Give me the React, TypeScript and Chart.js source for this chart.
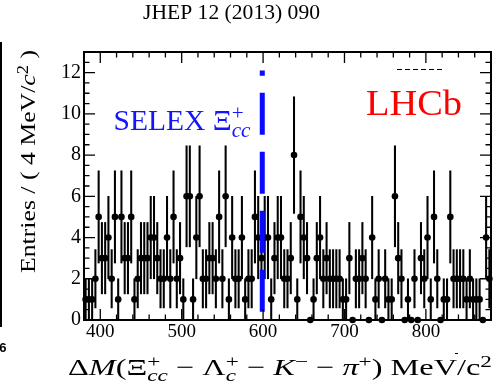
import { useEffect, useRef } from 'react';
import { Chart, registerables } from 'chart.js';

Chart.register(...registerables);

// ---- data ----
const binLow = 380;
const binHigh = 880;
const binWidth = 4;
const counts = [
  1, 1, 1, 2, 5, 3, 3, 4, 2, 5,
  1, 5, 3, 3, 5, 1, 2, 3, 3, 3,
  4, 4, 3, 2, 2, 4, 2, 5, 2, 3,
  1, 6, 6, 1, 4, 6, 2, 2, 3, 3,
  2, 5, 2, 6, 1, 4, 2, 2, 4, 1,
  2, 2, 5, 4, 3, 4, 4, 1, 3, 4,
  4, 2, 2, 3, 8, 1, 5, 4, 3, 0,
  1, 3, 4, 2, 3, 2, 2, 2, 2, 1,
  1, 3, 0, 2, 2, 3, 2, 0, 4, 1,
  2, 0, 2, 1, 1, 6, 3, 2, 0, 1,
  0, 2, 0, 3, 2, 4, 1, 5, 2, 0,
  1, 1, 5, 2, 2, 2, 2, 1, 2, 1,
  1, 1, 0, 4, 2,
];
const binCenters = counts.map((_, i) => binLow + binWidth * (i + 0.5));
const xTickValues = [400, 500, 600, 700, 800];
const yTickValues = [0, 2, 4, 6, 8, 10, 12];
const yMax = 13;
const selexMass = 599;
const selexLineRange = [0.4, 12.1];

const titleText = 'JHEP 12 (2013) 090';
const SERIF = '"Liberation Serif", "Times New Roman", serif';

type Seg = { t: string; it?: boolean; p?: 'sub' | 'sup'; stack?: boolean };

function layoutRich(ctx: CanvasRenderingContext2D, segs: Seg[], size: number, draw: boolean) {
  let x = 0;
  let pending = 0;
  for (const s of segs) {
    const fs = s.p ? size * 0.72 : size;
    ctx.font = `${s.it ? 'italic ' : ''}${fs}px ${SERIF}`;
    const w = ctx.measureText(s.t).width;
    const dy = s.p === 'sub' ? size * 0.25 : s.p === 'sup' ? -size * 0.34 : 0;
    if (draw) ctx.fillText(s.t, x, dy);
    if (s.stack) {
      pending = w;
      continue;
    }
    x += Math.max(w, pending);
    pending = 0;
  }
  return x;
}

function drawRich(
  ctx: CanvasRenderingContext2D,
  segs: Seg[],
  size: number,
  x: number,
  y: number,
  targetW: number,
  color: string,
  rotate = false
) {
  ctx.save();
  ctx.fillStyle = color;
  ctx.textAlign = 'left';
  ctx.textBaseline = 'alphabetic';
  const w = layoutRich(ctx, segs, size, false);
  ctx.translate(x, y);
  if (rotate) ctx.rotate(-Math.PI / 2);
  ctx.scale(targetW / w, 1);
  layoutRich(ctx, segs, size, true);
  ctx.restore();
}

const xTitle: Seg[] = [
  { t: 'Δ' }, { t: 'M', it: true }, { t: '(' }, { t: 'Ξ' },
  { t: 'cc', it: true, p: 'sub', stack: true }, { t: '+', p: 'sup' },
  { t: ' − ' }, { t: 'Λ' }, { t: 'c', it: true, p: 'sub', stack: true }, { t: '+', p: 'sup' },
  { t: ' − ' }, { t: 'K', it: true }, { t: '−', p: 'sup' },
  { t: ' − ' }, { t: 'π', it: true }, { t: '+', p: 'sup' }, { t: ')' },
  { t: ' MeV/c' }, { t: '2', p: 'sup' },
];
const yTitle: Seg[] = [
  { t: 'Entries / ( 4 MeV/' }, { t: 'c', it: true }, { t: '2', p: 'sup' }, { t: ' )' },
];
const selexLabel: Seg[] = [
  { t: 'SELEX ' }, { t: 'Ξ' }, { t: 'cc', it: true, p: 'sub', stack: true }, { t: '+', p: 'sup' },
];

const decorPlugin = {
  id: 'decor',
  afterDraw(chart: any) {
    const { ctx, chartArea } = chart;
    const { left, right, top, bottom } = chartArea;
    const xs = chart.scales.x;
    const ys = chart.scales.y;
    ctx.save();
    ctx.strokeStyle = '#000';
    ctx.lineWidth = 1.3;
    ctx.beginPath();
    for (let v = binLow; v <= binHigh; v += 20) {
      const px = xs.getPixelForValue(v);
      const L = v % 100 === 0 ? 11 : 5.5;
      ctx.moveTo(px, bottom);
      ctx.lineTo(px, bottom - L);
      ctx.moveTo(px, top);
      ctx.lineTo(px, top + L);
    }
    for (let v = 0; v <= yMax; v += 0.5) {
      const py = ys.getPixelForValue(v);
      const L = v % 2 === 0 ? 11 : 5.5;
      ctx.moveTo(left, py);
      ctx.lineTo(left + L, py);
      ctx.moveTo(right, py);
      ctx.lineTo(right - L, py);
    }
    ctx.stroke();
    ctx.lineWidth = 2;
    ctx.strokeRect(left, top, right - left, bottom - top);

    // small leftover legend dashes (top right)
    ctx.lineWidth = 1;
    ctx.setLineDash([5, 3]);
    ctx.beginPath();
    ctx.moveTo(397, 69.5);
    ctx.lineTo(444, 69.5);
    ctx.stroke();
    ctx.setLineDash([]);
    // neighbouring panel edge at far left
    ctx.lineWidth = 2;
    ctx.beginPath();
    ctx.moveTo(1, 42);
    ctx.lineTo(1, 327);
    ctx.stroke();
    ctx.lineWidth = 1;
    ctx.beginPath();
    ctx.moveTo(455, 353.5);
    ctx.lineTo(458, 353.5);
    ctx.stroke();
    ctx.fillStyle = '#000';
    ctx.font = 'bold 13px "Liberation Sans", Arial, sans-serif';
    ctx.textAlign = 'right';
    ctx.textBaseline = 'alphabetic';
    ctx.fillText('6', 6.5, 352);
    ctx.restore();

    // texts
    drawRich(ctx, [{ t: titleText }], 21, 143, 18.5, 177, '#000');
    drawRich(ctx, xTitle, 24, 68, 375, 424, '#000');
    drawRich(ctx, yTitle, 22, 35, 273, 223, '#000', true);
    drawRich(ctx, selexLabel, 29, 113.5, 130, 137, 'rgb(20,20,255)');
    drawRich(ctx, [{ t: 'LHCb' }], 36, 366, 115, 96, 'rgb(255,0,0)');
  },
};

export default function App() {
  const ref = useRef<HTMLCanvasElement | null>(null);
  useEffect(() => {
    if (!ref.current) return;
    const errData = counts
      .map((n, i) => ({ n, x: binCenters[i] }))
      .filter((d) => d.n > 0)
      .map((d) => ({ x: d.x, y: [d.n - Math.sqrt(d.n), d.n + Math.sqrt(d.n)] }));
    const ptData = counts.map((n, i) => ({ x: binCenters[i], y: n }));
    const chart = new Chart(ref.current, {
      type: 'scatter',
      data: {
        datasets: [
          {
            type: 'line',
            data: selexLineRange.map((v) => ({ x: selexMass, y: v })),
            borderColor: 'rgb(10,10,255)',
            borderWidth: 5,
            borderDash: [42, 17],
            borderCapStyle: 'butt',
            pointRadius: 0,
            order: 0,
          } as any,
          {
            type: 'scatter',
            data: ptData,
            backgroundColor: '#000',
            borderWidth: 0,
            pointRadius: 3.3,
            clip: false,
            order: 1,
          } as any,
          {
            type: 'bar',
            data: errData,
            backgroundColor: '#000',
            borderWidth: 0,
            barThickness: 1.4,
            grouped: false,
            order: 2,
          } as any,
        ],
      },
      options: {
        responsive: false,
        animation: false,
        devicePixelRatio: 1,
        layout: { padding: { top: 52, right: 2, left: 0, bottom: 0 } },
        plugins: {
          legend: { display: false },
          tooltip: { enabled: false },
          title: { display: false },
        },
        scales: {
          x: {
            type: 'linear',
            min: binLow,
            max: binHigh,
            offset: false,
            grid: { display: false, drawTicks: false, offset: false },
            border: { display: false },
            afterBuildTicks: (s: any) => {
              s.ticks = xTickValues.map((v) => ({ value: v }));
            },
            afterFit: (s: any) => {
              s.height = 70;
            },
            ticks: {
              font: { family: SERIF, size: 19 },
              color: '#000',
              padding: 1,
              maxRotation: 0,
              autoSkip: false,
            },
          },
          y: {
            type: 'linear',
            min: 0,
            max: yMax,
            grid: { display: false, drawTicks: false },
            border: { display: false },
            afterBuildTicks: (s: any) => {
              s.ticks = yTickValues.map((v) => ({ value: v }));
            },
            afterFit: (s: any) => {
              s.width = 84;
            },
            ticks: {
              font: { family: SERIF, size: 20 },
              color: '#000',
              padding: 3,
              autoSkip: false,
            },
          },
        },
      } as any,
      plugins: [decorPlugin],
    });
    return () => chart.destroy();
  }, []);
  return (
    <div style={{ position: 'absolute', left: 0, top: 0, width: 495, height: 390, background: '#fff' }}>
      <canvas ref={ref} width={495} height={390} style={{ display: 'block' }} />
    </div>
  );
}
